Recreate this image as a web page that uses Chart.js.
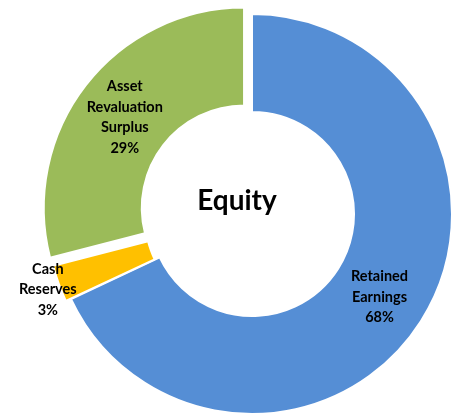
<!DOCTYPE html>
<html><head><meta charset="utf-8">
<script src="https://cdn.jsdelivr.net/npm/chart.js@4/dist/chart.umd.min.js"></script>
<style>html,body{margin:0;padding:0;background:#fff;}#wrap{width:459px;height:415px;position:relative}</style>
</head><body><div id="wrap"><canvas id="c" width="459" height="415"></canvas></div>
<script>
const categories = ['Retained Earnings', 'Cash Reserves', 'Asset Revaluation Surplus'];
const labelLines = [['Retained', 'Earnings'], ['Cash', 'Reserves'], ['Asset', 'Revaluation', 'Surplus']];
const values = [68, 3, 29];
const centerTitle = 'Equity';
const colors = ['#558ED5', '#FFC000', '#9BBB59'];
const explode = [0, 12, 40];

const total = values.reduce((a, b) => a + b, 0);

const labelPlugin = {
  id: 'sliceLabels',
  afterDatasetsDraw(chart) {
    const ctx = chart.ctx;
    const meta = chart.getDatasetMeta(0);
    ctx.save();
    ctx.fillStyle = '#000';
    ctx.textAlign = 'center';
    ctx.textBaseline = 'middle';
    ctx.font = 'bold 14.5px Lato, "Open Sans", sans-serif';
    meta.data.forEach((arc, i) => {
      const p = arc.getProps(['x', 'y', 'startAngle', 'endAngle', 'innerRadius', 'outerRadius'], true);
      const mid = (p.startAngle + p.endAngle) / 2;
      const off = explode[i] / 4;
      const cx = p.x + Math.cos(mid) * off;
      const cy = p.y + Math.sin(mid) * off;
      const frac = values[i] / total;
      const r = frac < 0.05 ? p.outerRadius + 14 : (p.innerRadius + p.outerRadius) / 2;
      const lx = cx + Math.cos(mid) * r;
      const ly = cy + Math.sin(mid) * r + 2;
      const lines = labelLines[i].concat([Math.round(frac * 100) + '%']);
      const lh = 20.5;
      const y0 = ly - (lines.length - 1) * lh / 2;
      lines.forEach((t, k) => ctx.fillText(t, lx, y0 + k * lh));
    });
    const a0 = meta.data[0];
    ctx.font = 'bold 28px Lato, "Open Sans", sans-serif';
    ctx.fillText(centerTitle, a0.x - 15, a0.y - 13);
    ctx.restore();
  }
};

new Chart(document.getElementById('c'), {
  type: 'doughnut',
  data: {
    labels: categories,
    datasets: [{
      data: values,
      backgroundColor: colors,
      borderColor: '#ffffff',
      borderWidth: 2,
      offset: explode
    }]
  },
  options: {
    responsive: false,
    animation: false,
    radius: 200,
    cutout: '51%',
    layout: { padding: { left: 45, right: 0, top: 13, bottom: 0 } },
    plugins: { legend: { display: false }, tooltip: { enabled: false } }
  },
  plugins: [labelPlugin]
});
</script>
</body></html>
